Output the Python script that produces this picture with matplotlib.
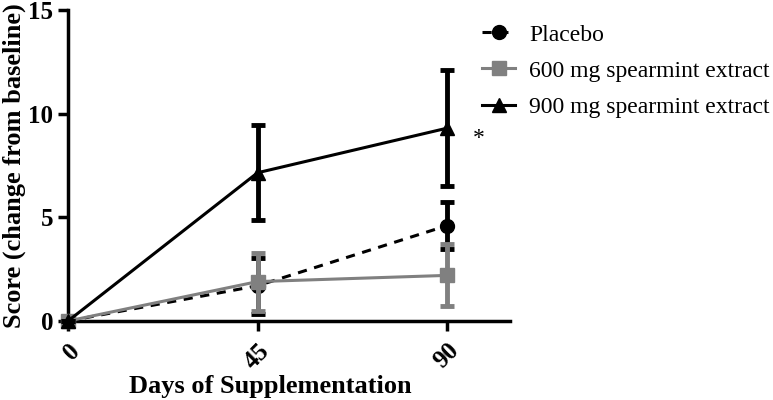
import matplotlib.pyplot as plt
from matplotlib.lines import Line2D
import numpy as np

plt.rcParams['font.family'] = ['Liberation Serif', 'DejaVu Serif']

days = [0, 45, 90]
placebo = [0, 1.7, 4.6]
placebo_err = [0, 1.35, 1.15]
mg600 = [0, 1.9, 2.2]
mg600_err = [0, 1.4, 1.5]
mg900 = [0, 7.15, 9.3]
mg900_err = [0, 2.3, 2.8]

fig = plt.figure(figsize=(7.73, 4.0), dpi=100)
ax = fig.add_axes([0.088, 0.1975, 0.572, 0.7775])

dash = (0, (3, 2.5))
ax.errorbar(days, placebo, yerr=placebo_err, color='black', ls=dash, lw=2.2,
            marker='o', ms=10, capsize=5, capthick=3.5, elinewidth=3.5, clip_on=False,
            zorder=3)
ax.errorbar(days, mg600, yerr=mg600_err, color='#808080', ls='-', lw=2.2,
            marker='s', ms=10, capsize=5, capthick=3.5, elinewidth=3.5, clip_on=False,
            zorder=4)
ax.errorbar(days, mg900, yerr=mg900_err, color='black', ls='-', lw=2.2,
            marker='^', ms=10, capsize=5, capthick=3.5, elinewidth=3.5, clip_on=False,
            zorder=5)

ax.text(97.5, 8.8, '*', fontsize=17, ha='center', va='center')

ax.set_xlim(0, 105)
ax.set_ylim(0, 15)
ax.set_xticks(days)
ax.set_xticklabels([str(d) for d in days], rotation=45, fontsize=18, fontweight='bold',
                   ha='right', va='top', rotation_mode='anchor')
ax.set_yticks([0, 5, 10, 15])
ax.set_yticklabels(['0', '5', '10', '15'], fontsize=18, fontweight='bold')
ax.tick_params(width=2.5, length=7)
ax.tick_params(axis='x', pad=6)
for s in ['top', 'right']:
    ax.spines[s].set_visible(False)
for s in ['left', 'bottom']:
    ax.spines[s].set_linewidth(2.5)

ax.set_xlabel('Days of Supplementation', fontsize=19, fontweight='bold')
ax.xaxis.set_label_coords(0.457, -0.175)
ax.set_ylabel('Score (change from baseline)', fontsize=19, fontweight='bold', labelpad=2)

handles = [
    Line2D([], [], color='black', ls=dash, lw=2.2, marker='o', ms=10),
    Line2D([], [], color='#808080', ls='-', lw=2.2, marker='s', ms=10),
    Line2D([], [], color='black', ls='-', lw=2.2, marker='^', ms=10),
]
labels = ['Placebo', '600 mg spearmint extract', '900 mg spearmint extract']
fig.legend(handles, labels, loc='upper left', bbox_to_anchor=(482 / 773, 0.94), frameon=False,
           fontsize=17, handlelength=1.4, handletextpad=0.6, labelspacing=0.62,
           borderpad=0, borderaxespad=0)

fig.savefig('out.png', dpi=100)
